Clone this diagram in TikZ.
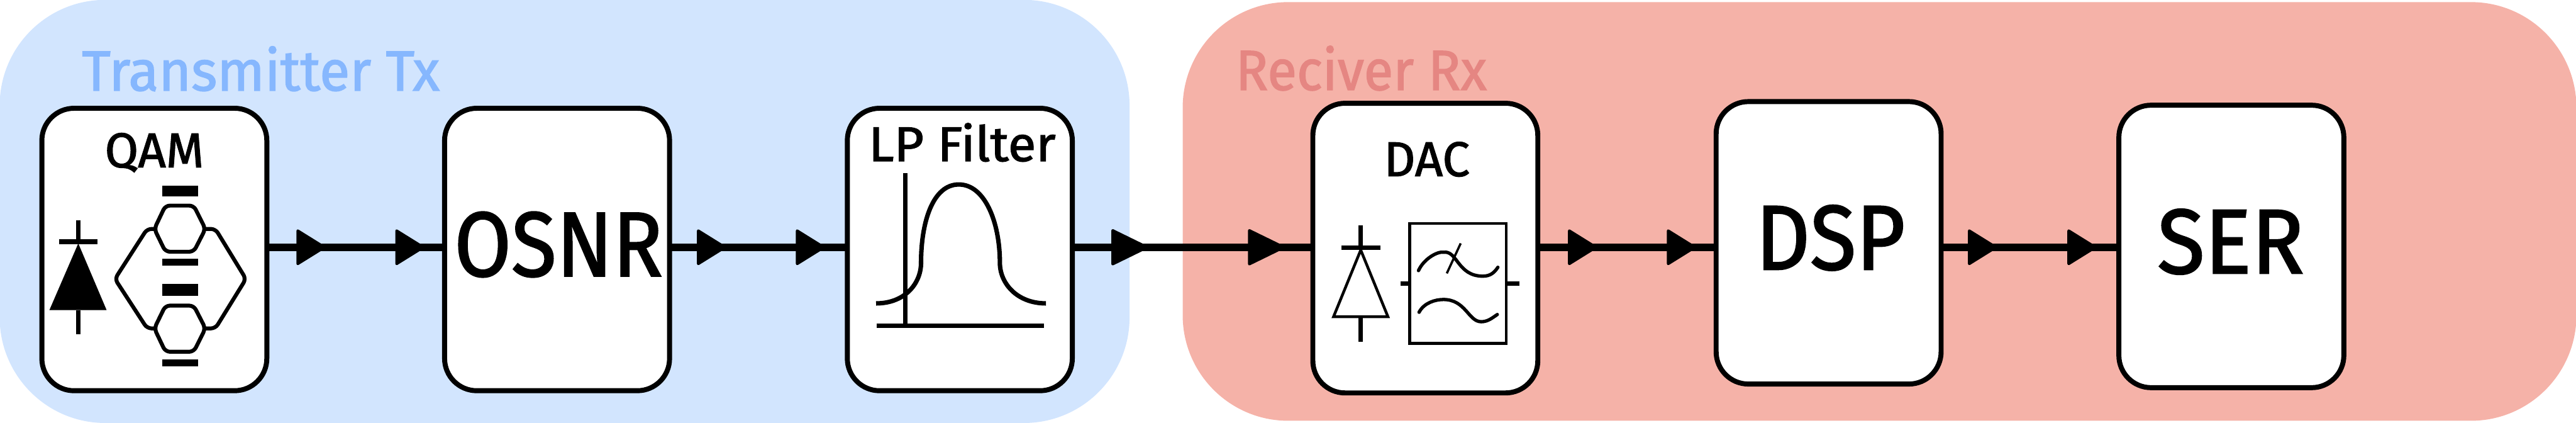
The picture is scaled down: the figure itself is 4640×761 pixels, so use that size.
\documentclass[tikz,border=0pt]{standalone}
\usepackage{fontspec}
\setmainfont{Fira Sans}[FakeBold=1.6]
\usepackage{xcolor}
\usetikzlibrary{positioning, arrows.meta, decorations.markings}
\definecolor{txfill}{HTML}{D2E5FE}
\definecolor{txtext}{HTML}{86B7FE}
\definecolor{rxfill}{HTML}{F5B2A8}
\definecolor{rxtext}{HTML}{E58682}
\newcommand{\sizedfont}[1]{\fontsize{#1}{#1}\selectfont}

\begin{document}
\begin{tikzpicture}[
  x=0.01cm, y=-0.01cm,
  region/.style={inner sep=0pt, outer sep=0pt, rounded corners=1.9cm},
  title/.style={anchor=base west, inner sep=0pt, font=\sizedfont{29}},
  blockbox/.style={draw=black, fill=white, line width=0.09cm, rounded corners=0.58cm,
    inner sep=0pt, outer sep=0pt, minimum width=4.05cm, minimum height=5.08cm},
  biglabel/.style={anchor=base, inner sep=0pt, font=\sizedfont{47}},
  smalllabel/.style={anchor=base, inner sep=0pt, font=\sizedfont{25}},
  heavy/.style={line width=0.08cm},
  fine/.style={line width=0.05cm},
  mzm/.style={line width=0.07cm, rounded corners=0.08cm, line join=round},
  wave/.style={line width=0.06cm, line cap=round},
  wire/.style 2 args={line width=0.14cm, postaction={decorate, decoration={markings,
    mark=at position #1 with {\arrow{Triangle[length=5.5mm, width=6.7mm, round, line width=1.4pt]}},
    mark=at position #2 with {\arrow{Triangle[length=5.5mm, width=6.7mm, round, line width=1.4pt]}}}}},
  widewire/.style 2 args={line width=0.14cm, postaction={decorate, decoration={markings,
    mark=at position #1 with {\arrow{Triangle[length=7mm, width=6.7mm, round, line width=1.4pt]}},
    mark=at position #2 with {\arrow{Triangle[length=7mm, width=6.7mm, round, line width=1.4pt]}}}}}
]
\useasboundingbox (0,0) rectangle (4640,761);

% the two halves
\node[region, fill=txfill, minimum width=20.34cm, minimum height=7.61cm] (tx) at (1017,380.5) {};
\node[region, fill=rxfill, minimum width=25.09cm, minimum height=7.53cm] (rx) at (3385.5,380.5) {};
\node[title, text=txtext, xscale=0.98] (txTitle) at (147,163) {Transmitter Tx};
\node[title, text=rxtext, xscale=0.95] (rxTitle) at (2225,162) {Reciver Rx};

% blocks
\node[blockbox] (qam) at (278,449) {};
\node[blockbox, right=3.2cm of qam] (osnr) {};
\node[blockbox, right=3.2cm of osnr] (lpf) {};
\node[blockbox, right=4.33cm of lpf, yshift=0.025cm, minimum height=5.21cm] (dac) {};
\node[blockbox, right=3.21cm of dac, yshift=0.095cm] (dsp) {};
\node[blockbox, right=3.2cm of dsp, yshift=-0.065cm] (ser) {};

\node[smalllabel] (qamT) at (278,301) {QAM};
\node[biglabel, xscale=0.9] (osnrT) at (1006,497) {OSNR};
\node[smalllabel, xscale=1.05] (lpfT) at (1733,290) {LP Filter};
\node[smalllabel] (dacT) at (2570,317) {DAC};
\node[biglabel, xscale=0.92] (dspT) at (3297,485) {DSP};
\node[biglabel, xscale=0.95] (serT) at (4018,492) {SER};

% wires
\coordinate (bus) at (0,445);
\draw[wire={1.06cm}{2.84cm}] (qam.east |- bus) -- (osnr.west |- bus);
\draw[wire={1.02cm}{2.80cm}] (osnr.east |- bus) -- (lpf.west |- bus);
\draw[widewire={1.37cm}{3.83cm}] (lpf.east |- bus) -- (dac.west |- bus);
\draw[wire={1.07cm}{2.85cm}] (dac.east |- bus) -- (dsp.west |- bus);
\draw[wire={1.01cm}{2.80cm}] (dsp.east |- bus) -- (ser.west |- bus);

% QAM icon
\draw[heavy] (141,396) -- (141,440);
\draw[line width=0.09cm] (106,435) -- (176,435);
\fill (141,438) -- (192,558) -- (89,558) -- cycle;
\draw[heavy] (141,558) -- (141,601);
\draw[mzm] (324,370) -- (349,370) -- (370,412) -- (349,453) -- (298,453) -- (278,412) -- (298,370) -- cycle;
\draw[mzm] (324,550) -- (349,550) -- (370,591) -- (349,633) -- (298,633) -- (278,591) -- (298,550) -- cycle;
\draw[mzm] (278,412) -- (265,412) -- (207,502) -- (265,591) -- (278,591);
\draw[mzm] (370,412) -- (388,412) -- (443,502) -- (388,591) -- (370,591);
\fill (292,334) rectangle (357,354);
\fill (292,466) rectangle (357,478);
\fill (292,511) rectangle (357,532);
\fill (292,647) rectangle (357,659);

% filter icon
\draw[heavy] (1631,312) -- (1631,586);
\draw[heavy] (1579,586) -- (1881,586);
\draw[heavy] (1578,546) .. controls (1630,546) and (1659,510) .. (1659,473)
  .. controls (1659,400) and (1680,332) .. (1727,332)
  .. controls (1774,332) and (1801,400) .. (1801,473)
  .. controls (1801,510) and (1832,546) .. (1884,546);

% DAC icon
\draw[heavy] (2451,405) -- (2451,446);
\draw[heavy] (2416,446) -- (2486,446);
\draw[fine] (2451,450) -- (2500,570) -- (2402,570) -- cycle;
\draw[heavy] (2451,570) -- (2451,615);
\draw[fine] (2539,402) rectangle (2713,618);
\draw[heavy] (2523,510) -- (2539,510);
\draw[heavy] (2713,510) -- (2737,510);
\draw[wave] (2555,487) .. controls (2565,465) and (2590,452) .. (2600,454)
  .. controls (2625,450) and (2625,497) .. (2671,497)
  .. controls (2685,497) and (2692,490) .. (2698,481);
\draw[line width=0.04cm] (2631,438) -- (2606,492);
\draw[wave] (2556,562) .. controls (2565,545) and (2585,539) .. (2600,539)
  .. controls (2640,539) and (2645,579) .. (2668,579)
  .. controls (2680,579) and (2688,572) .. (2697,566);
\end{tikzpicture}
\end{document}
